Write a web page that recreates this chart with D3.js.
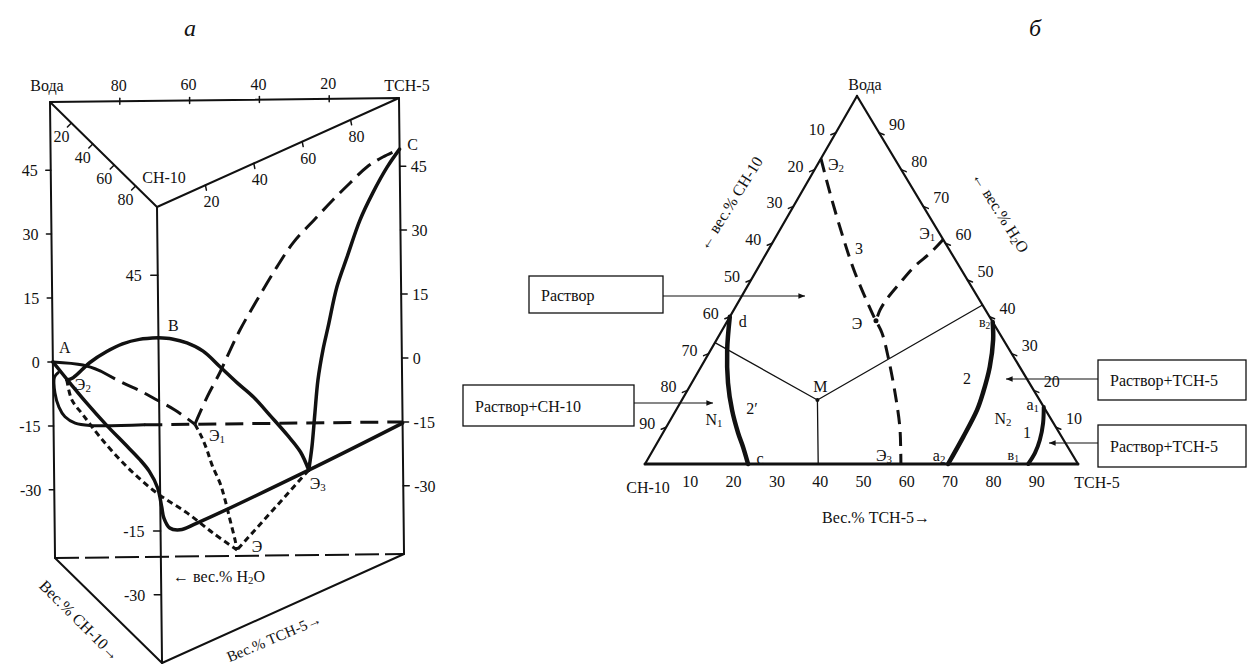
<!DOCTYPE html>
<html><head><meta charset="utf-8">
<script src="https://cdn.jsdelivr.net/npm/d3@7"></script>
<style>body{margin:0;background:#fff}</style>
</head><body>
<svg id="c" width="1247" height="669"></svg>
<script>
// ================= DATA =================
// --- (a) prism: points [water %, TCH-5 %, T °C]; CH-10 % = 100 - water - TCH-5
const tempRange = [61, -46];
const tempTicksSide = [45, 30, 15, 0, -15, -30];
const tempTicksMid = [45, -15, -30];
const prismEdgeTicks = [20, 40, 60, 80];
const waterEdgeLabels = ["80", "60", "40", "20"];

const liqBE2 = [[87,0,-1],[81,0,1],[65,0,8.5],[49,0,15],[34,0,20.5],[18,0,25.5],[0,0,30.3]];
const liqBE3 = [[0,0,30.3],[0,5.6,28.6],[0,11.7,26.1],[0,18.3,22.5],[0,25.3,17],[0,32.2,11.5],[0,38.8,6.5],[0,45.7,0.3],[0,52.6,-6],[0,57.9,-11.3],[0,61.2,-16.4]];
const liqE3C = [[0,61.2,-16.4],[0,62.6,-11.4],[0,64,-3.7],[0,65.4,3.7],[0,67.6,10.2],[0,69.8,15],[0,73.6,23.4],[0,77.9,29.3],[0,83.4,36.6],[0,88.8,41.6],[0,94.8,46.1],[0,100,49]];
const liqAE1 = [[100,0,0],[91.4,8.6,-0.8],[86.5,13.5,-2.2],[80,20,-5.1],[75.1,24.9,-7],[70.3,29.7,-9.2],[65.2,34.8,-11.6],[59.5,40.5,-15]];
const liqE1C = [[59.5,40.5,-15],[55.9,44.1,-8.6],[52.1,47.9,-2.8],[49.8,50.2,1.2],[46.3,53.7,7],[41.3,58.7,14],[35.5,64.5,21.7],[30.8,69.2,27.3],[23.9,76.1,33.3],[19.2,80.8,37.3],[14.3,85.7,41.2],[9.4,90.6,44.9],[4.8,95.2,47.2],[0,100,49]];
const iceCurve = [[98.5,1.5,-2.5],[99.6,0.4,-3.6],[99.5,0.5,-7.3],[98.4,1.6,-10.6],[96.7,3.3,-12.9],[93.8,6.2,-14.4],[89.5,10.5,-15],[74,26,-15]];
const isoBack = [[74,26,-15],[0,100,-15]];
const lineA = [[100,0,0],[84,0,-1],[70,0,-1.8],[50,0,-2.5],[33,0,-2.7],[19,0,-2.9],[10,0,-3.5],[2.3,0,-5.5],[0,0.6,-9.6],[0,1.4,-12.3],[0,3.8,-15.3],[0,8,-16.8],[0,15,-17],[0,61.2,-16.4],[0,100,-15.3]];
const cotE2E = [[87,0,-1],[83.6,0.5,-5],[78.9,3,-8],[70.7,6.3,-12],[57.1,11.4,-17],[45.4,18.4,-22],[37.5,27.3,-27],[28,33.7,-31],[21,40.5,-35]];
const cotE1E = [[59.5,40.5,-15],[53.4,40.5,-16.4],[48.3,40.5,-18.3],[43.7,40.5,-20.7],[36.4,40.5,-23.1],[31.8,40.5,-25.9],[27.3,40.5,-29.5],[22.8,40.5,-33.1],[21,40.5,-35]];
const cotE3E = [[0,61.2,-16.4],[10.5,50.9,-25.7],[21,40.5,-35]];
const prismPoints = {A:[100,0,0], B:[0,0,30.3], C:[0,100,49], E1:[59.5,40.5,-15], E2:[87,0,-1], E3:[0,61.2,-16.4], E:[21,40.5,-35]};

// --- (б) triangle: points [TCH-5 %, water %]; CH-10 % = 100 - TCH-5 - water
const ternTicks = [10,20,30,40,50,60,70,80,90];
const curve3 = [[0,83],[6.7,73.6],[15.5,61.7],[23.1,51.9],[32.4,41],[34.3,38.9],[37.3,35.6],[41.9,29.1],[48.3,19.3],[53.9,10.1],[57.6,3],[59.1,0]];
const curveE1E = [[39,61],[37.8,57.3],[36,53.8],[34.8,49.2],[33.9,44.8],[33.8,41.8],[34.3,38.9]];
const curve2p = [[0,40],[3.8,31],[8.4,22],[12.9,14.7],[17.4,8.4],[20.4,4.6],[23.8,0]];
const curve2 = [[61.4,38.6],[63.9,33.7],[66.7,26.4],[68.6,19.3],[69.5,14.7],[69.9,7.3],[70,0]];
const curve1 = [[84.5,15.5],[86.5,11.1],[88,6.5],[88.6,3],[88.5,0]];
const pointM = [31.3,17.4];
const tieEnds = [[0,33],[56.8,43.2],[40,0]];
const ternPoints = {E2:[0,83], E:[34.3,38.9], E1:[39,61], E3:[59.1,0], d:[0,40], c:[23.8,0], b2:[61.4,38.6], a2:[70,0], a1:[84.5,15.5], b1:[88.5,0]};

// ================= DRAWING =================
const svg = d3.select("#c");
const FONT = "'Liberation Serif','Times New Roman',serif";
svg.append("defs").append("marker").attr("id","arr").attr("viewBox","0 0 10 10")
  .attr("refX",10).attr("refY",5).attr("markerWidth",9).attr("markerHeight",6).attr("orient","auto")
  .append("path").attr("d","M0,1 L10,5 L0,9 Z").attr("fill","#111");

function label(g, x, y, s, o = {}) {
  const t = g.append("text").attr("x", x).attr("y", y)
    .attr("font-family", FONT).attr("font-size", o.size || 16)
    .attr("text-anchor", o.anchor || "middle").attr("dominant-baseline", "central")
    .attr("fill", "#111");
  if (o.italic) t.attr("font-style", "italic");
  if (o.rotate !== undefined) t.attr("transform", `rotate(${o.rotate},${x},${y})`);
  const parts = s.split("_");
  t.append("tspan").text(parts[0]);
  if (parts.length > 1) {
    t.append("tspan").attr("font-size", (o.size || 16) * 0.68).attr("dy", 4).text(parts[1]);
    if (parts.length > 2) t.append("tspan").attr("dy", -4).text(parts[2]);
  }
  return t;
}

// ---------- (a) prism ----------
const ga = svg.append("g");
const tY = d3.scaleLinear().domain(tempRange).range([0, 456]);
const frac = d3.scaleLinear().domain([0, 100]).range([0, 1]);
const CW = [50, 102], CC = [157, 207], CT = [399, 98]; // top corners (layout)
function P(d) {
  const w = frac(d[0]), t = frac(d[1]), c = 1 - w - t, dy = tY(d[2]);
  return [w * CW[0] + c * CC[0] + t * CT[0] + 0.011 * dy, w * CW[1] + c * CC[1] + t * CT[1] + dy];
}
const lineP = d3.line().x(d => P(d)[0]).y(d => P(d)[1]);
const curveP = d3.line().x(d => P(d)[0]).y(d => P(d)[1]).curve(d3.curveCatmullRom.alpha(0.5));
function stroke(sel, w, dash) {
  sel.attr("fill", "none").attr("stroke", "#111").attr("stroke-width", w)
    .attr("stroke-linecap", dash ? "butt" : "round").attr("stroke-linejoin", "round");
  if (dash) sel.attr("stroke-dasharray", dash);
  return sel;
}
const Tmax = tempRange[0], Tmin = tempRange[1];
const vW = [100, 0], vC = [0, 0], vT = [0, 100];
// frame
stroke(ga.append("path").attr("d", lineP([[...vW, Tmax], [...vC, Tmax], [...vT, Tmax]]) + "Z"), 2);
[vW, vC, vT].forEach(v => stroke(ga.append("path").attr("d", lineP([[...v, Tmax], [...v, Tmin]])), 2));
stroke(ga.append("path").attr("d", lineP([[...vW, Tmin], [...vC, Tmin], [...vT, Tmin]])), 2);
stroke(ga.append("path").attr("d", lineP([[...vW, Tmin], [...vT, Tmin]])), 2, "24,6");

// temperature ticks
tempTicksSide.forEach(T => {
  let [x, y] = P([...vW, T]);
  stroke(ga.append("line").attr("x1", x - 5).attr("x2", x).attr("y1", y).attr("y2", y), 1.5);
  label(ga, x - 13, y, String(T), {anchor: "end"});
  [x, y] = P([...vT, T]);
  stroke(ga.append("line").attr("x1", x).attr("x2", x + 6).attr("y1", y).attr("y2", y), 1.5);
  label(ga, x + 11, y, String(T), {anchor: "start"});
});
tempTicksMid.forEach(T => {
  const [x, y] = P([...vC, T]);
  stroke(ga.append("line").attr("x1", x - 7).attr("x2", x).attr("y1", y).attr("y2", y), 1.5);
  label(ga, x - 16, y, String(T), {anchor: "end"});
});
// composition ticks on top triangle
prismEdgeTicks.forEach((v, i) => {
  let [x, y] = P([100 - v, v, Tmax]);
  stroke(ga.append("line").attr("x1", x).attr("x2", x).attr("y1", y - 3).attr("y2", y + 3), 1.5);
  label(ga, x - 1, y - 16, waterEdgeLabels[i]);
  [x, y] = P([100 - v, 0, Tmax]);
  stroke(ga.append("line").attr("x1", x).attr("x2", x - 4).attr("y1", y).attr("y2", y + 4), 1.5);
  label(ga, x - 10, y + 13, String(v));
  [x, y] = P([0, v, Tmax]);
  stroke(ga.append("line").attr("x1", x).attr("x2", x + 1).attr("y1", y).attr("y2", y + 5), 1.5);
  label(ga, x + 6, y + 16, String(v));
});

// curves
stroke(ga.append("path").attr("d", curveP(liqBE2)), 3.5);
stroke(ga.append("path").attr("d", curveP(liqBE3)), 3.5);
stroke(ga.append("path").attr("d", curveP(liqE3C)), 3.5);
stroke(ga.append("path").attr("d", curveP(lineA)), 3.5);
stroke(ga.append("path").attr("d", curveP(iceCurve)), 3);
stroke(ga.append("path").attr("d", lineP(isoBack)), 3, "18,9");
stroke(ga.append("path").attr("d", curveP(liqAE1.slice(0, 3))), 3);
stroke(ga.append("path").attr("d", curveP(liqAE1.slice(2))), 3, "17,8");
stroke(ga.append("path").attr("d", curveP(liqE1C)), 3, "17,8");
stroke(ga.append("path").attr("d", curveP(cotE2E)), 3, "6,4");
stroke(ga.append("path").attr("d", curveP(cotE1E)), 3, "6,4");
stroke(ga.append("path").attr("d", lineP(cotE3E)), 3, "6,4");

// point labels
const pl = (k, dx, dy, s) => { const [x, y] = P(prismPoints[k]); label(ga, x + dx, y + dy, s); };
pl("A", 12, -15, "A"); pl("B", 15, -13, "B"); pl("C", 13, -5, "C");
pl("E2", 16, 4, "Э_2"); pl("E1", 22, 11, "Э_1"); pl("E3", 9, 13, "Э_3"); pl("E", 20, -4, "Э");
{ let [x, y] = P([...vW, Tmax]); label(ga, x - 3, y - 17, "Вода");
  [x, y] = P([...vT, Tmax]); label(ga, x + 8, y - 13, "TCH-5");
  [x, y] = P([...vC, Tmax]); label(ga, x + 7, y - 30, "CH-10"); }
label(ga, 173, 576, "← вес.% H_2_O", {anchor: "start"});
label(ga, 80, 620, "Вес.% CH-10→", {rotate: 45});
label(ga, 274, 638, "Вес.% TCH-5→", {rotate: -23, size: 15});
label(ga, 190, 28, "а", {italic: true, size: 24});

// ---------- (б) ternary ----------
const gb = svg.append("g");
const VL = [645, 464], VR = [1078, 464], VA = [857, 96]; // CH-10, TCH-5, Вода vertices (layout)
function Q(d) {
  const t = frac(d[0]), w = frac(d[1]), c = 1 - t - w;
  return [c * VL[0] + t * VR[0] + w * VA[0], c * VL[1] + t * VR[1] + w * VA[1]];
}
const lineQ = d3.line().x(d => Q(d)[0]).y(d => Q(d)[1]);
const curveQ = d3.line().x(d => Q(d)[0]).y(d => Q(d)[1]).curve(d3.curveCatmullRom.alpha(0.5));

stroke(gb.append("path").attr("d", lineQ([[0, 100], [0, 0]])), 2.2);
stroke(gb.append("path").attr("d", lineQ([[0, 100], [100, 0]])), 2.2);
stroke(gb.append("path").attr("d", lineQ([[0, 0], [100, 0]])), 3);
// ticks
ternTicks.forEach(v => {
  let [x, y] = Q([0, 100 - v]);            // CH-10 % on left edge
  stroke(gb.append("line").attr("x1", x).attr("x2", x - 5).attr("y1", y).attr("y2", y + 2), 1.5);
  label(gb, x - 11, y - 4, String(v), {anchor: "end"});
  [x, y] = Q([100 - v, v]);                // water % on right edge
  stroke(gb.append("line").attr("x1", x).attr("x2", x + 5).attr("y1", y).attr("y2", y + 2), 1.5);
  label(gb, x + 10, y - 9, String(v), {anchor: "start"});
  [x, y] = Q([v, 0]);                      // TCH-5 % on base
  label(gb, x + 2, y + 17, String(v));
});
// thin tie lines through M
tieEnds.forEach(e => stroke(gb.append("path").attr("d", lineQ([pointM, e])), 1.3));
gb.append("circle").attr("cx", Q(pointM)[0]).attr("cy", Q(pointM)[1]).attr("r", 2).attr("fill", "#111");
// curves
stroke(gb.append("path").attr("d", curveQ(curve3)), 3, "14,8");
stroke(gb.append("path").attr("d", curveQ(curveE1E)), 3, "14,8");
stroke(gb.append("path").attr("d", curveQ(curve2p)), 4.5);
stroke(gb.append("path").attr("d", curveQ(curve2)), 4.5);
stroke(gb.append("path").attr("d", curveQ(curve1)), 4);
gb.append("circle").attr("cx", Q(ternPoints.E)[0]).attr("cy", Q(ternPoints.E)[1]).attr("r", 2.5).attr("fill", "#111");

const tl = (k, dx, dy, s, o) => { const [x, y] = Q(ternPoints[k]); label(gb, x + dx, y + dy, s, o); };
tl("E2", 15, 5, "Э_2"); tl("E", -19, 2, "Э"); tl("E1", -16, -7, "Э_1"); tl("E3", -17, -9, "Э_3");
tl("d", 13, 4, "d"); tl("c", 12, -6, "c"); tl("b2", -8, 0, "в_2", {size: 14});
tl("a2", -9, -9, "a_2"); tl("a1", -11, -3, "a_1"); tl("b1", -15, -9, "в_1", {size: 14});
{ const [x, y] = Q(pointM); label(gb, x + 3, y - 14, "M"); }
label(gb, 859, 248, "3"); label(gb, 967, 378, "2"); label(gb, 1027, 432, "1");
label(gb, 752, 408, "2′"); label(gb, 714, 419, "N_1"); label(gb, 1003, 418, "N_2");
{ let [x, y] = Q([0, 100]); label(gb, x + 8, y - 12, "Вода");
  [x, y] = Q([0, 0]); label(gb, x + 3, y + 23, "CH-10");
  [x, y] = Q([100, 0]); label(gb, x + 19, y + 18, "TCH-5"); }
label(gb, 876, 517, "Вес.% TCH-5→");
label(gb, 730, 203, "← вес.% CH-10", {rotate: -58});
label(gb, 1001, 212, "← вес.% H_2_O", {rotate: 58});
label(gb, 1035, 28, "б", {italic: true, size: 24});

// annotation boxes
function box(x, y, w, h, s, ax1, ax2, ay) {
  gb.append("rect").attr("x", x).attr("y", y).attr("width", w).attr("height", h)
    .attr("fill", "none").attr("stroke", "#111").attr("stroke-width", 1.3);
  label(gb, x + 12, y + h / 2, s, {anchor: "start"});
  gb.append("line").attr("x1", ax1).attr("x2", ax2).attr("y1", ay).attr("y2", ay)
    .attr("stroke", "#111").attr("stroke-width", 1.1).attr("marker-end", "url(#arr)");
}
box(529, 276, 134, 37, "Раствор", 663, 805, 296);
box(463, 385, 171, 41, "Раствор+CH-10", 634, 713, 403);
box(1098, 360, 148, 40, "Раствор+TCH-5", 1098, 1006, 379);
box(1098, 425, 148, 42, "Раствор+TCH-5", 1098, 1049, 443);
</script>
</body></html>
